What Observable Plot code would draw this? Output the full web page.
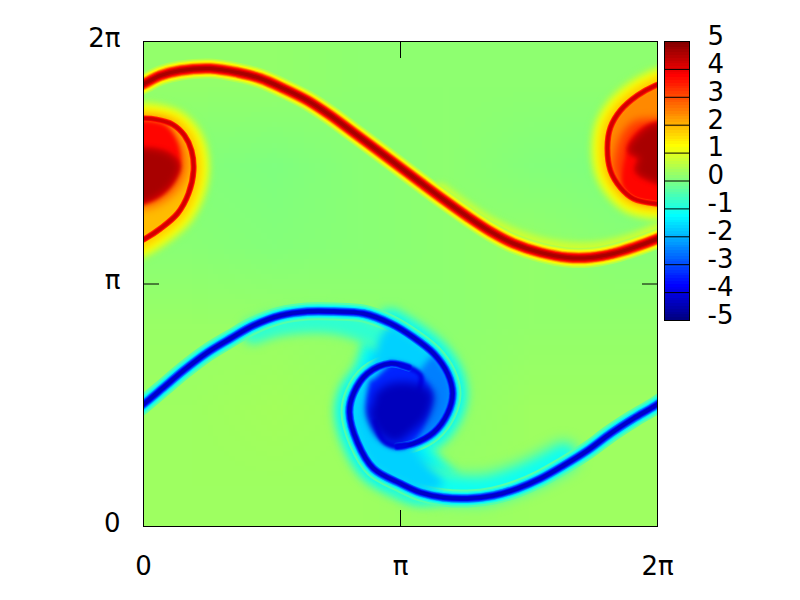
<!DOCTYPE html>
<html><head><meta charset="utf-8">
<script src="https://cdn.jsdelivr.net/npm/d3@7"></script>
<script src="https://cdn.jsdelivr.net/npm/@observablehq/plot@0.6"></script>
<style>
html,body{margin:0;padding:0;background:#fff}
#c{position:relative;width:800px;height:600px;overflow:hidden}
#c svg{position:absolute;left:0;top:0;background:transparent;font-family:"DejaVu Sans",sans-serif}
</style></head><body><div id="c"></div>
<script>
// sampling grid of the field; positions below are [i, j] grid cells
const Nx = 514, Ny = 485;
const axisTicks = [0, Math.PI, 2 * Math.PI];
const axisLabels = ["0", "π", "2π"];
const colorTicks = [5, 4, 3, 2, 1, 0, -1, -2, -3, -4, -5];
const jetDomain = [-5, -3.75, -2.5, -1.25, 0, 1.25, 2.5, 3.75, 5];
const jetRange = ["#00007f", "#0000ff", "#007fff", "#00ffff", "#7fff7f", "#ffff00", "#ff7f00", "#ff0000", "#7f0000"];

// smooth background level (6 x 6 samples, top row first)
const background = [
  .2, .2, .15, .15, .15, .15,
  .05, 0, .1, .15, .05, 0,
  .1, .05, .1, .15, .2, .1,
  .25, .25, .2, .15, .2, .2,
  .3, .35, .3, .2, .3, .3,
  .3, .3, .3, .25, .3, .3
];

// positive sheet
const redFilament = [[-18,434],[1,443],[17,451],[37,456],[67,458],[94,454],[117,448],[140,438],[164,426],[187,411],[210,394],[237,374],[257,359],[277,344],[300,327],[324,310],[347,295],[370,283],[397,274],[424,269],[447,269],[470,273],[490,279],[512,287],[532,296]];
const redHaloLower = [[297,335],[347,301],[397,281],[447,276],[487,284],[517,296]];
const redRingLeft = [[-18,278],[2,288],[17,298],[34,313],[45,333],[50,356],[48,376],[41,391],[29,402],[12,407],[0,408],[-18,408]];
const redRingRight = [[532,448],[512,441],[494,431],[477,416],[467,399],[464,379],[467,356],[477,339],[490,328],[512,323],[532,323]];
const redMidLeft = [[-18,320],[2,318],[20,325],[35,338],[43,356],[42,376],[35,392],[25,404],[2,408],[-18,408]];
const redMidRight = [[532,325],[512,325],[490,330],[477,342],[470,356],[472,375],[478,392],[490,405],[512,408],[532,408]];
const redCoreLeft = [[-18,406],[2,406],[22,401],[34,384],[37,366],[30,346],[17,331],[2,324],[-18,321]];
const redDeepLeft = [[-18,376],[7,376],[25,371],[34,361],[27,344],[12,331],[0,326],[-18,321]];
const redCoreRight = [[532,408],[512,404],[497,398],[485,384],[482,371],[479,356],[479,341],[490,328],[512,323],[532,321]];
const redDeepRight = [[532,401],[507,399],[487,376],[497,369],[494,356],[512,346],[532,341]];

// negative sheet
const blueArmUpper = [[-18,108],[1,123],[20,139],[40,156],[64,174],[87,188],[110,201],[137,211],[164,215],[190,215],[220,213],[247,203],[270,189],[290,173],[304,153],[309,133],[304,113],[290,94],[270,83],[254,80]];
const blueArmLower = [[265,159],[247,163],[224,153],[210,133],[206,114],[214,84],[230,58],[257,43],[277,34],[300,29],[324,28],[350,31],[374,38],[397,48],[420,61],[444,76],[467,93],[490,108],[512,121],[532,135]];
const blueTailUpper = [[262,81],[254,80],[240,86],[232,105]];
const blueTailLower = [[275,135],[277,151],[265,159],[258,161]];
const blueHaloUpper = [[110,195],[137,203],[190,205],[225,195],[250,180]];
const blueHaloLower = [[262,50],[300,40],[340,38],[380,50],[420,70]];
const blueShell = [[247,203],[270,189],[290,173],[304,153],[309,133],[304,113],[290,94],[270,83],[285,60],[300,42],[277,36],[257,43],[230,58],[214,84],[206,114],[210,133],[224,153],[232,175],[238,192]];
const blueMid = [[290,173],[304,153],[309,133],[304,113],[290,94],[270,83],[254,80],[270,110],[285,135],[275,155]];
const blueCore = [[247,163],[265,159],[277,151],[287,133],[283,112],[270,88],[254,80],[240,86],[229,101],[224,119],[228,145]];
const blueDeep = [[232,131],[247,141],[272,141],[287,133],[282,111],[267,96],[252,86],[235,96],[227,116]];

const colorLevels = d3.range(-5, 5, 0.1);

const X = d => d[0] / Nx * 2 * Math.PI, Y = d => d[1] / Ny * 2 * Math.PI;
const color = {type: "linear", domain: jetDomain, range: jetRange};

const redProfile = [[20,.5],[17,.9],[14.5,1.3],[12.5,1.8],[11,2.3],[10,2.8],[9,3.3],[7.5,3.8],[5.5,4.3],[3,4.6]];
const redRingProfile = [[6,3.3],[4.5,3.8],[3,4.2]];
const blueOuter = [[18,-.4],[14,-.9],[11,-1.4],[9,-2]];
const blueInner = [[8,-2.6],[6.5,-3.2],[5,-3.8],[3.5,-4.3]];
const blobHalo = [[36,.4],[30,.8],[24,1.2],[16,1.7]];

const blurs = [];
const line = (pts, opts, blur) => { blurs.push(blur); return Plot.line(pts, {x: X, y: Y, curve: "catmull-rom", clip: true, ...opts}); };
const stroked = (pts, profile, blur = 0.7) => profile.map(([w, v]) => line(pts, {stroke: () => v, strokeWidth: w}, blur));
const filled = (pts, v, edge = 0, blur = 2) => line(pts, {fill: () => v, stroke: () => v, strokeWidth: edge}, blur);
const softFill = (pts, profile, blur = 3) => profile.map(([w, v]) => filled(pts, v, w, blur));

const font = {fontSize: 26};
const main = Plot.plot({
  width: 800, height: 600,
  marginLeft: 143, marginRight: 143, marginTop: 41, marginBottom: 74,
  x: {domain: [0, 2 * Math.PI]}, y: {domain: [0, 2 * Math.PI]},
  color,
  style: {background: "transparent"},
  marks: [
    Plot.raster(background, {width: 6, height: 6, x1: 0, x2: 2 * Math.PI, y1: 2 * Math.PI, y2: 0, fill: d => d, imageRendering: "auto"}),
    // positive vortex
    ...softFill(redRingLeft, blobHalo),
    filled(redRingLeft, 1.9),
    filled(redMidLeft, 2.8, 0, 5),
    ...softFill(redRingRight, blobHalo),
    filled(redRingRight, 2.4),
    filled(redMidRight, 3.2, 0, 4),
    ...stroked(redHaloLower, [[18,.5],[12,.8]], 3),
    ...stroked(redFilament, redProfile),
    filled(redCoreLeft, 3.7),
    filled(redCoreRight, 3.7),
    ...stroked(redRingLeft, redRingProfile),
    ...stroked(redRingRight, redRingProfile),
    ...softFill(redDeepLeft, [[6,4.2]], 2), filled(redDeepLeft, 4.6, 0, 3),
    ...softFill(redDeepRight, [[6,4.2]], 2), filled(redDeepRight, 4.6, 0, 3),
    // negative vortex
    ...softFill(blueShell, [[32,-.5],[24,-1],[14,-1.4]], 5),
    ...stroked(blueHaloUpper, [[26,-.5]], 5),
    ...stroked(blueHaloLower, [[34,-.5]], 6),
    ...stroked(blueHaloUpper, [[16,-.8]], 4),
    ...stroked(blueHaloLower, [[18,-1.1]], 4),
    ...stroked(blueArmUpper, blueOuter),
    ...stroked(blueArmLower, blueOuter),
    filled(blueShell, -1.7, 0, 4),
    filled(blueMid, -2.5, 0, 3),
    filled(blueCore, -3.4, 4, 2.5),
    ...stroked(blueArmUpper, blueInner),
    ...stroked(blueArmLower, blueInner),
    ...stroked(blueTailUpper, [[5,-4]], 1.5),
    ...stroked(blueTailLower, [[5,-4]], 1.5),
    filled(blueDeep, -4.4, 4, 5),
    Plot.frame({stroke: "black", strokeWidth: 1}),
    Plot.axisX({anchor: "bottom", ticks: [Math.PI], tickFormat: () => "", tickSize: -16, label: null}),
    Plot.axisX({anchor: "top", ticks: [Math.PI], tickFormat: () => "", tickSize: -16, label: null}),
    Plot.axisY({anchor: "left", ticks: [Math.PI], tickFormat: () => "", tickSize: -16, label: null}),
    Plot.axisY({anchor: "right", ticks: [Math.PI], tickFormat: () => "", tickSize: -16, label: null}),
    Plot.axisX({anchor: "bottom", ticks: axisTicks, tickFormat: (d, i) => axisLabels[i], tickSize: 0, tickPadding: 30, label: null, ...font}),
    Plot.axisY({anchor: "left", ticks: axisTicks, tickFormat: (d, i) => axisLabels[i], tickSize: 0, tickPadding: 23, dy: -3, label: null, ...font})
  ]
});
main.querySelectorAll('g[aria-label="line"]').forEach((g, i) => { g.style.filter = `blur(${blurs[i]}px)`; });

const bar = Plot.plot({
  width: 800, height: 600,
  marginLeft: 664, marginRight: 111, marginTop: 41, marginBottom: 280,
  x: {domain: [0, 1], axis: null}, y: {domain: [-5, 5]},
  color,
  style: {background: "transparent"},
  marks: [
    Plot.rect(colorLevels, {x1: 0, x2: 1, y1: d => d, y2: d => d + 0.1, fill: d => d + 0.05, shapeRendering: "crispEdges"}),
    Plot.ruleY(colorTicks, {stroke: "black", strokeWidth: 1}),
    Plot.frame({stroke: "black", strokeWidth: 1}),
    Plot.axisY({anchor: "right", ticks: colorTicks, tickFormat: d => String(d), tickSize: 0, tickPadding: 18, dy: -5, textAnchor: "start", label: null, ...font})
  ]
});

document.getElementById("c").append(main, bar);
</script></body></html>
